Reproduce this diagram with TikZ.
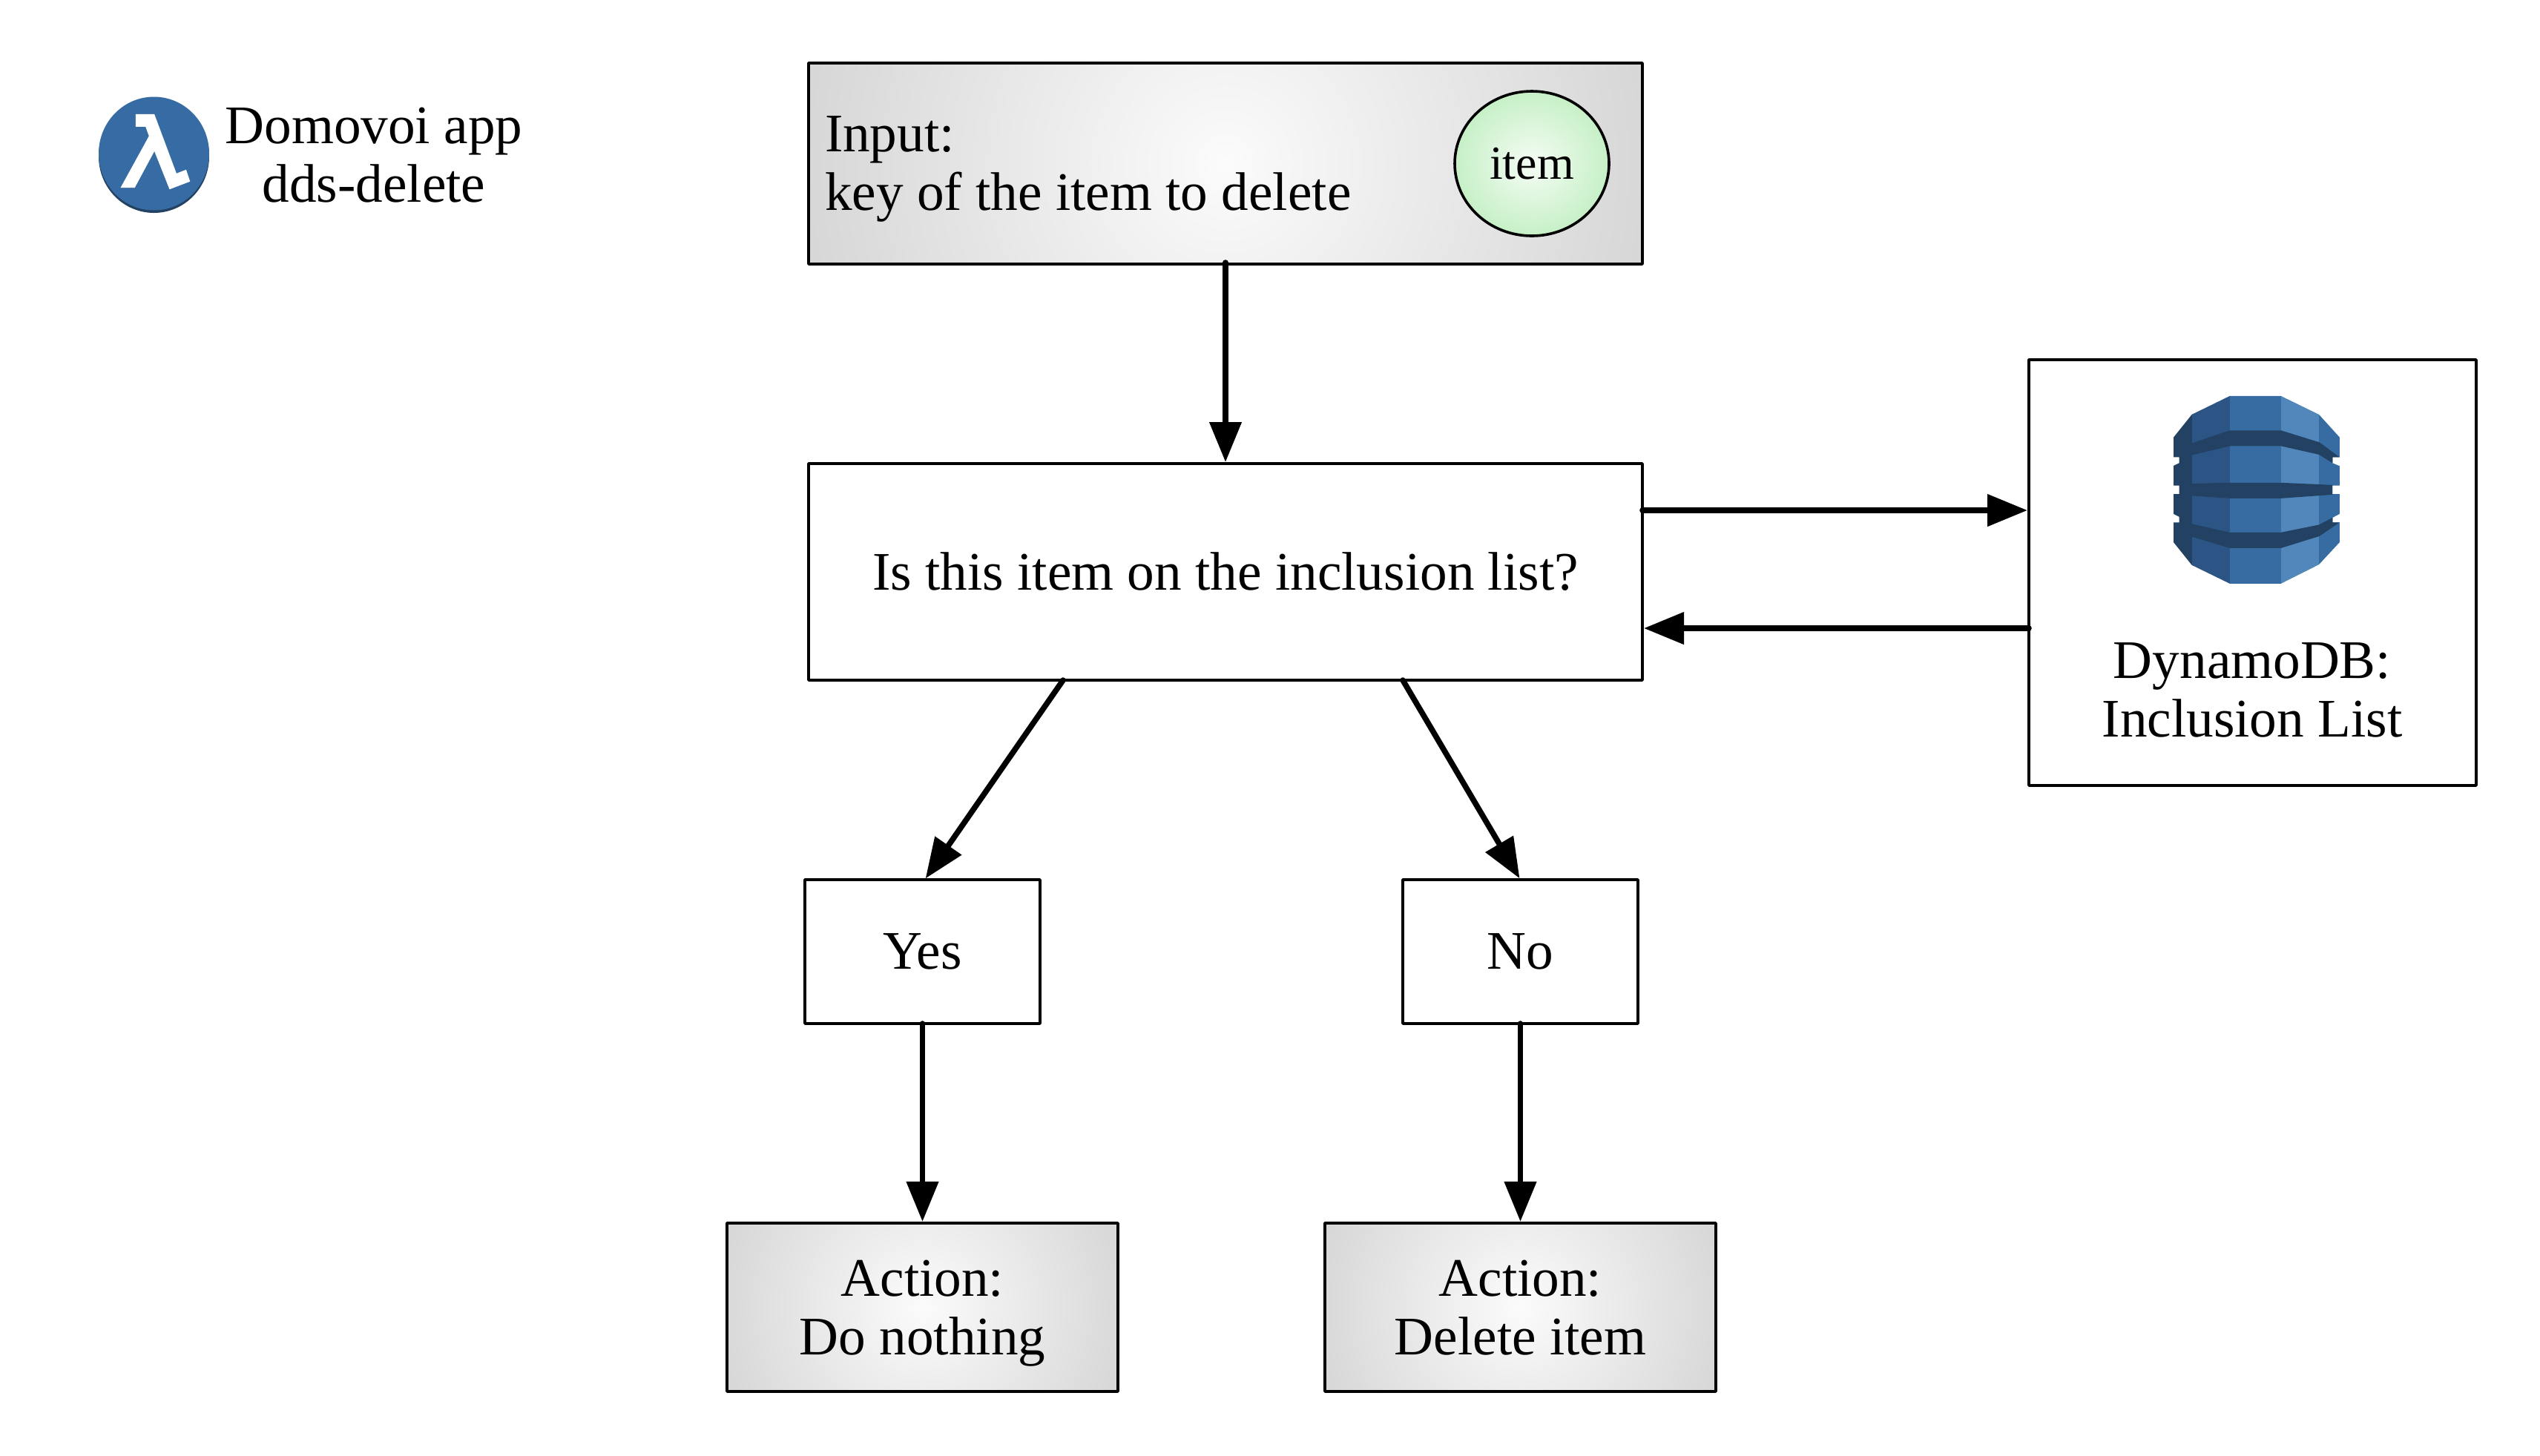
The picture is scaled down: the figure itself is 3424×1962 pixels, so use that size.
\documentclass[tikz,border=0pt]{standalone}
\usepackage{fontspec}
\setmainfont{Liberation Serif}
\usetikzlibrary{arrows.meta,calc,shapes.geometric}
\definecolor{greyedge}{gray}{0.84}
\definecolor{greycentre}{gray}{0.985}
\definecolor{greenedge}{RGB}{198,240,198}
\definecolor{greencentre}{RGB}{245,252,245}
\pgfdeclareradialshading{greyrad}{\pgfpointorigin}{color(0bp)=(greycentre); color(25bp)=(greyedge); color(50bp)=(greyedge)}
\pgfdeclareradialshading{greenrad}{\pgfpointorigin}{color(0bp)=(greencentre); color(25bp)=(greenedge); color(50bp)=(greenedge)}
\definecolor{lamblue}{HTML}{366BA3}
\definecolor{lamdark}{HTML}{234263}
\definecolor{dbleft}{HTML}{2C5586}
\definecolor{dbmid}{HTML}{376CA3}
\definecolor{dbright}{HTML}{5187BB}
\newcommand{\bodysize}{\fontsize{18.3}{19.75}\selectfont}
\newcommand{\nodepth}[1]{\raisebox{0pt}[\height][0pt]{#1}}
\tikzset{
  x=0.25pt,y=-0.25pt,
  box/.style={draw=black,line width=0.9pt,line join=round,inner sep=0pt,outer sep=0pt,font=\bodysize,align=center},
  plainbox/.style={box,fill=white},
  radial/.style={path picture={\shade[shading=greyrad] (path picture bounding box.center) circle (#1);}},
  flow/.style={-{Triangle[length=13.5pt,width=10.5pt]},line width=1.9pt,line cap=round,black,shorten >=0.5pt},
  labeltext/.style={font=\bodysize,align=center,inner sep=0pt,outer sep=0pt},
}
\begin{document}
\begin{tikzpicture}
\useasboundingbox (0,0) rectangle (3424,1962);
% Lambda icon
\fill[lamdark] (207.5,211) ellipse [x radius=74.5,y radius=76];
\fill[lamblue] (207.5,207) ellipse [x radius=74.5,y radius=76.5];
\begin{scope}[shift={(100,90)},xscale=0.408,yscale=0.34]
\fill[white] (203,188)--(265,188)--(338,423)--(370,408)--(383,455)--(315,486)--(265,335)--(200,480)--(153,480)--(247,275)--(236,238)--(203,238)--cycle;
\end{scope}
\node[labeltext,anchor=base] (app) at (504,272) {Domovoi app\\dds-delete};
% Boxes
\node[box,radial=145pt,minimum width=281pt,minimum height=67.75pt] (input) at (1652,220.5) {};
\node[labeltext,anchor=base west,align=left] (inputtext) at (1112,283) {Input:\\key of the item to delete};
\node[draw=black,line width=0.9pt,ellipse,shading=greenrad,minimum width=52pt,minimum height=48.75pt,inner sep=0pt,outer sep=0pt,font=\fontsize{16}{18}\selectfont] (item) at (2065,220.5) {item};
\node[plainbox,minimum width=281pt,minimum height=73pt] (main) at (1652,771) {Is this item on the inclusion list?};
\node[plainbox,minimum width=79.25pt,minimum height=48.5pt] (yes) at (1243.5,1283) {Yes};
\node[plainbox,minimum width=79.25pt,minimum height=48.5pt] (no) at (2049.5,1283) {No};
\node[box,radial=72pt,minimum width=131.75pt,minimum height=56.75pt] (act1) at (1243.5,1762.5) {Action:\\\nodepth{Do nothing}};
\node[box,radial=72pt,minimum width=131.75pt,minimum height=56.75pt] (act2) at (2049.5,1762.5) {Action:\\\nodepth{Delete item}};
\node[plainbox,minimum width=150.75pt,minimum height=143.5pt] (dyn) at (3036.5,772) {};
\node[labeltext,anchor=base] (dyntext) at (3036,993) {DynamoDB:\\Inclusion List};
% DynamoDB icon
\begin{scope}[shift={(2720,470)},xscale=0.408,yscale=0.383]
\begin{scope}
\clip (700,167)--(870,167)--(995,232)--(1063,312)--(1063,382)--(1040,382)--(1040,403)--(1063,413)--(1063,482)--(1040,482)--(1040,512)--(1063,512)--(1063,582)--(1040,595)--(1040,612)--(1063,612)--(1063,682)--(995,760)--(870,827)--(700,827)--(575,762)--(515,682)--(515,612)--(533,612)--(533,592)--(515,582)--(515,512)--(533,512)--(533,482)--(515,482)--(515,412)--(533,403)--(533,382)--(515,382)--(515,312)--(575,232)--cycle;
\fill[lamdark] (500,150) rectangle (575,840);
\fill[dbleft] (575,150) rectangle (700,840);
\fill[dbmid] (700,150) rectangle (870,840);
\fill[dbright] (870,150) rectangle (995,840);
\fill[dbmid] (995,150) rectangle (1080,840);
\fill[lamdark] (575,333)--(700,288)--(870,288)--(997,330)--(1063,382)--(1040,403)--(995,373)--(870,343)--(700,343)--(575,375)--cycle;
\fill[lamdark] (575,475)--(700,472)--(870,472)--(1040,480)--(1040,514)--(870,527)--(700,527)--(575,518)--cycle;
\fill[lamdark] (575,617)--(700,647)--(870,647)--(995,620)--(1040,595)--(1063,612)--(997,660)--(870,702)--(700,702)--(575,662)--cycle;
\end{scope}
\end{scope}
% Connectors
\draw[flow] ([yshift=0.5pt]input.south) -- (main.north);
\draw[flow] ([yshift=20.75pt]main.east) -- ([yshift=21pt]dyn.west);
\draw[flow] ([yshift=-18.75pt]dyn.west) -- ([yshift=-19pt]main.east);
\draw[flow] ([xshift=-54.75pt]main.south) -- ([xshift=0.75pt]yes.north);
\draw[flow] ([xshift=59.75pt]main.south) -- (no.north);
\draw[flow] (yes.south) -- (act1.north);
\draw[flow] (no.south) -- (act2.north);
\end{tikzpicture}
\end{document}
